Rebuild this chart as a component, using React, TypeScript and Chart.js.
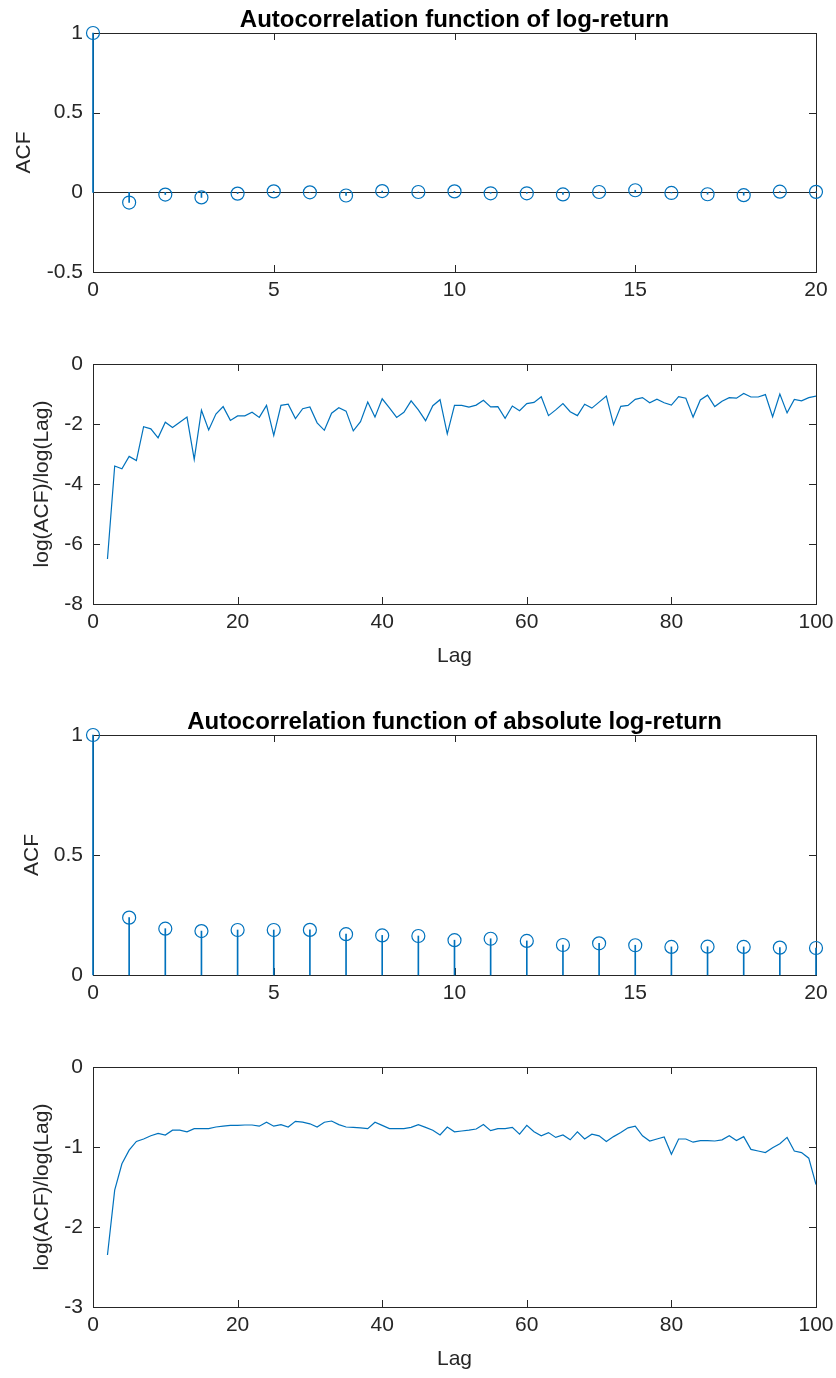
import React, { useEffect, useRef } from "react";
import { Chart, registerables } from "chart.js";

Chart.register(...registerables);

const BLUE = "#0072BD";
const AX = "#262626";
const FONT = "'Liberation Sans', Arial, Helvetica, sans-serif";

// ---- data ----
const stemLags = [0, 1, 2, 3, 4, 5, 6, 7, 8, 9, 10, 11, 12, 13, 14, 15, 16, 17, 18, 19, 20];
const acfLogReturn = [1, -0.064, -0.014, -0.032, -0.008, 0.006, 0.0, -0.02, 0.008, 0.002, 0.006,
  -0.006, -0.006, -0.013, 0.002, 0.013, -0.004, -0.012, -0.018, 0.004, 0.003];
const acfAbsLogReturn = [1, 0.239, 0.193, 0.183, 0.1875, 0.1875, 0.188, 0.17, 0.165, 0.1625, 0.145,
  0.151, 0.142, 0.125, 0.132, 0.124, 0.117, 0.118, 0.117, 0.114, 0.1125];

const lineLags = Array.from({ length: 99 }, (_, i) => i + 2);
const ratioLogReturn = [
  -6.5, -3.4, -3.49, -3.08, -3.22, -2.09, -2.16, -2.46, -1.94, -2.12,
  -1.94, -1.77, -3.18, -1.54, -2.2, -1.67, -1.42, -1.88, -1.73, -1.73,
  -1.61, -1.78, -1.38, -2.38, -1.38, -1.34, -1.82, -1.49, -1.43, -1.96,
  -2.21, -1.64, -1.46, -1.57, -2.23, -1.92, -1.27, -1.77, -1.16, -1.46,
  -1.78, -1.61, -1.23, -1.53, -1.89, -1.39, -1.19, -2.33, -1.38, -1.38,
  -1.44, -1.37, -1.21, -1.43, -1.42, -1.81, -1.4, -1.56, -1.32, -1.28,
  -1.09, -1.72, -1.53, -1.32, -1.59, -1.72, -1.34, -1.47, -1.27, -1.07,
  -2.02, -1.41, -1.38, -1.18, -1.12, -1.29, -1.17, -1.29, -1.37, -1.09,
  -1.14, -1.77, -1.2, -1.04, -1.42, -1.24, -1.12, -1.14, -0.98, -1.1,
  -1.1, -1.02, -1.76, -1.0, -1.63, -1.18, -1.23, -1.12, -1.07,
];
const ratioAbsLogReturn = [
  -2.35, -1.54, -1.21, -1.04, -0.93, -0.9, -0.86, -0.83, -0.85, -0.79,
  -0.79, -0.81, -0.77, -0.77, -0.77, -0.75, -0.74, -0.73, -0.73, -0.725,
  -0.725, -0.74, -0.69, -0.74, -0.72, -0.75, -0.68, -0.69, -0.71, -0.75,
  -0.69, -0.675, -0.72, -0.75, -0.755, -0.76, -0.77, -0.69, -0.73, -0.77,
  -0.77, -0.77, -0.755, -0.72, -0.755, -0.79, -0.85, -0.75, -0.81, -0.8,
  -0.79, -0.775, -0.72, -0.795, -0.77, -0.77, -0.755, -0.84, -0.73, -0.81,
  -0.86, -0.82, -0.88, -0.85, -0.91, -0.81, -0.9, -0.84, -0.86, -0.93,
  -0.87, -0.82, -0.76, -0.74, -0.86, -0.925, -0.9, -0.875, -1.09, -0.9,
  -0.9, -0.94, -0.92, -0.92, -0.925, -0.91, -0.86, -0.92, -0.87, -1.03,
  -1.05, -1.07, -1.01, -0.96, -0.88, -1.05, -1.07, -1.14, -1.47,
];

const titles = [
  "Autocorrelation function of log-return",
  "Autocorrelation function of absolute log-return",
];
const yLabels = ["ACF", "log(ACF)/log(Lag)"];
const xLabel = "Lag";

// ---- plugin: MATLAB style box, inward ticks, baseline, title ----
const matlabAxes = {
  id: "matlabAxes",
  beforeDatasetsDraw(chart: any, _args: any, opts: any) {
    const { ctx, chartArea: a, scales } = chart;
    ctx.save();
    ctx.strokeStyle = AX;
    ctx.lineWidth = 1;
    if (opts.baseline) {
      const y = Math.round(scales.y.getPixelForValue(0)) + 0.5;
      ctx.beginPath();
      ctx.moveTo(a.left, y);
      ctx.lineTo(a.right, y);
      ctx.stroke();
    }
    const L = 7;
    ctx.beginPath();
    scales.x.ticks.forEach((_t: any, i: number) => {
      const x = Math.round(scales.x.getPixelForTick(i)) + 0.5;
      ctx.moveTo(x, a.bottom);
      ctx.lineTo(x, a.bottom - L);
      ctx.moveTo(x, a.top);
      ctx.lineTo(x, a.top + L);
    });
    scales.y.ticks.forEach((_t: any, i: number) => {
      const y = Math.round(scales.y.getPixelForTick(i)) + 0.5;
      ctx.moveTo(a.left, y);
      ctx.lineTo(a.left + L, y);
      ctx.moveTo(a.right, y);
      ctx.lineTo(a.right - L, y);
    });
    ctx.stroke();
    ctx.strokeRect(Math.round(a.left) + 0.5, Math.round(a.top) + 0.5,
      Math.round(a.right - a.left), Math.round(a.bottom - a.top));
    ctx.restore();
  },
  afterDraw(chart: any, _args: any, opts: any) {
    if (!opts.title) return;
    const { ctx, chartArea: a } = chart;
    ctx.save();
    ctx.fillStyle = "#000";
    ctx.font = `bold 24px ${FONT}`;
    ctx.textAlign = "center";
    ctx.textBaseline = "alphabetic";
    ctx.fillText(opts.title, (a.left + a.right) / 2, a.top - 6);
    ctx.restore();
  },
};

type PanelSpec = {
  top: number;
  height: number;
  padTop: number;
  xAxisH: number;
  kind: "stem" | "line";
  xs: number[];
  ys: number[];
  xMax: number;
  xStep: number;
  yMin: number;
  yMax: number;
  yStep: number;
  yLabel: string;
  yLabelPad: number;
  title?: string;
  showXLabel: boolean;
  xLabelPad: number;
  baseline: boolean;
};

function buildConfig(p: PanelSpec): any {
  const pts = p.xs.map((x, i) => ({ x, y: p.ys[i] }));
  const datasets: any[] =
    p.kind === "stem"
      ? [
          {
            type: "bar",
            data: pts,
            backgroundColor: BLUE,
            borderWidth: 0,
            barThickness: 1,
            clip: false,
            order: 2,
          },
          {
            type: "scatter",
            data: pts,
            showLine: false,
            pointStyle: "circle",
            pointRadius: 6.5,
            pointBorderWidth: 1.2,
            pointBorderColor: BLUE,
            pointBackgroundColor: "rgba(0,0,0,0)",
            clip: false,
            order: 1,
          },
        ]
      : [
          {
            type: "line",
            data: pts,
            borderColor: BLUE,
            borderWidth: 1.2,
            pointRadius: 0,
            tension: 0,
            fill: false,
          },
        ];
  const tickFont = { family: FONT, size: 21 };
  return {
    type: "scatter",
    data: { datasets },
    options: {
      animation: false,
      responsive: false,
      maintainAspectRatio: false,
      devicePixelRatio: 1,
      layout: { padding: { top: p.padTop, left: 0, right: 20, bottom: 0 } },
      plugins: {
        legend: { display: false },
        tooltip: { enabled: false },
        title: { display: false },
        matlabAxes: { title: p.title, baseline: p.baseline },
      },
      scales: {
        x: {
          type: "linear",
          min: 0,
          max: p.xMax,
          offset: false,
          grid: { display: false, drawTicks: false },
          border: { display: false },
          ticks: {
            stepSize: p.xStep,
            color: AX,
            font: tickFont,
            padding: 6,
            maxRotation: 0,
            autoSkip: false,
            callback: (v: any) => String(v),
          },
          title: {
            display: p.showXLabel,
            text: xLabel,
            color: AX,
            font: { family: FONT, size: 21 },
            padding: { top: 0, bottom: p.xLabelPad },
          },
          afterFit: (s: any) => {
            s.height = p.xAxisH;
            s.paddingLeft = 0;
            s.paddingRight = 0;
          },
        },
        y: {
          type: "linear",
          min: p.yMin,
          max: p.yMax,
          grid: { display: false, drawTicks: false },
          border: { display: false },
          ticks: {
            stepSize: p.yStep,
            color: AX,
            font: tickFont,
            padding: 10,
            callback: (v: any) => String(v),
          },
          title: {
            display: true,
            text: p.yLabel,
            color: AX,
            font: { family: FONT, size: 21 },
            padding: { top: p.yLabelPad, bottom: 0 },
          },
          afterFit: (s: any) => {
            s.width = 93;
            s.paddingTop = 0;
            s.paddingBottom = 0;
          },
        },
      },
    },
    plugins: [matlabAxes],
  };
}

const panels: PanelSpec[] = [
  {
    top: 0, height: 320, padTop: 33, xAxisH: 48, kind: "stem",
    xs: stemLags, ys: acfLogReturn, xMax: 20, xStep: 5,
    yMin: -0.5, yMax: 1, yStep: 0.5, yLabel: yLabels[0], yLabelPad: 12,
    title: titles[0], showXLabel: false, xLabelPad: 0, baseline: true,
  },
  {
    top: 320, height: 360, padTop: 44, xAxisH: 76, kind: "line",
    xs: lineLags, ys: ratioLogReturn, xMax: 100, xStep: 20,
    yMin: -8, yMax: 0, yStep: 2, yLabel: yLabels[1], yLabelPad: 30,
    showXLabel: true, xLabelPad: 11, baseline: false,
  },
  {
    top: 680, height: 330, padTop: 55, xAxisH: 35, kind: "stem",
    xs: stemLags, ys: acfAbsLogReturn, xMax: 20, xStep: 5,
    yMin: 0, yMax: 1, yStep: 0.5, yLabel: yLabels[0], yLabelPad: 20,
    title: titles[1], showXLabel: false, xLabelPad: 0, baseline: true,
  },
  {
    top: 1010, height: 368, padTop: 57, xAxisH: 71, kind: "line",
    xs: lineLags, ys: ratioAbsLogReturn, xMax: 100, xStep: 20,
    yMin: -3, yMax: 0, yStep: 1, yLabel: yLabels[1], yLabelPad: 30,
    showXLabel: true, xLabelPad: 6, baseline: false,
  },
];

function Panel({ spec }: { spec: PanelSpec }) {
  const ref = useRef<HTMLCanvasElement | null>(null);
  useEffect(() => {
    if (!ref.current) return;
    const chart = new Chart(ref.current, buildConfig(spec));
    return () => chart.destroy();
  }, [spec]);
  return (
    <canvas
      ref={ref}
      width={836}
      height={spec.height}
      style={{ position: "absolute", left: 0, top: spec.top, width: 836, height: spec.height }}
    />
  );
}

export default function App() {
  return (
    <div style={{ position: "absolute", left: 0, top: 0, width: 836, height: 1378, background: "#fff" }}>
      {panels.map((p, i) => (
        <Panel key={i} spec={p} />
      ))}
    </div>
  );
}
